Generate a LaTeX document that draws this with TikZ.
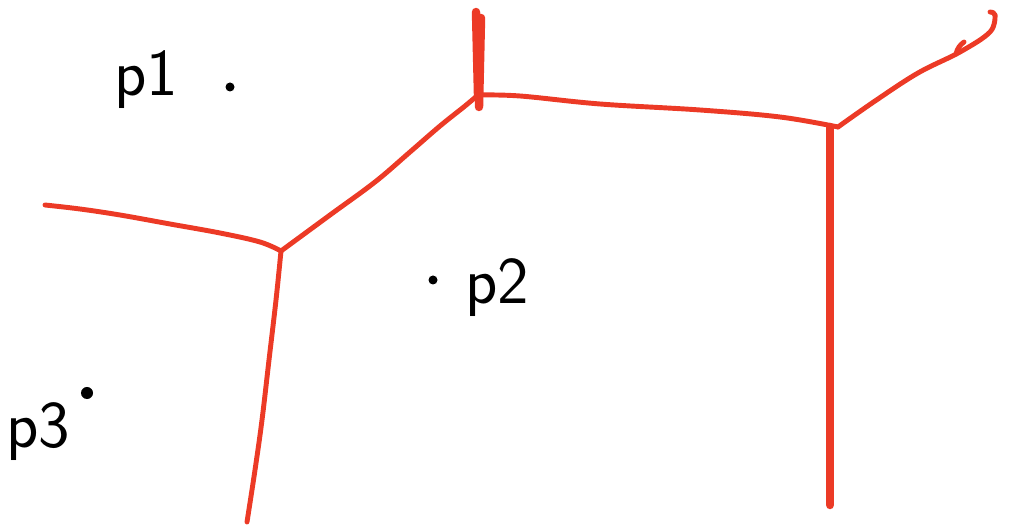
\documentclass[tikz,border=0pt]{standalone}
\usepackage{tikz}
\usetikzlibrary{positioning}
\definecolor{VorRed}{RGB}{236,58,38}
\definecolor{VorInk}{RGB}{0,0,0}
\tikzset{
  vor/edge/.style={
    draw=VorRed,
    line width=1.4pt,
    line cap=round,
    line join=round
  },
  vor/heavyedge/.style={
    draw=VorRed,
    line width=2.4pt,
    line cap=round
  },
  vor/site/.style={circle, fill=VorInk, inner sep=0pt, minimum size=0.09cm},
  vor/label/.style={font=\sffamily\fontsize{19}{19}\selectfont, text=VorInk, inner sep=0pt}
}
\begin{document}
\begin{tikzpicture}[x=0.01cm,y=-0.01cm]
  \useasboundingbox (0,0) rectangle (1010,528);
  \node[vor/site] (p1) at (230,87) {};
  \node[vor/site] (p2) at (433,280) {};
  \node[vor/site,minimum size=0.12cm] (p3) at (87,393) {};
  \node[vor/label] (p1lbl) at (146,80) {p1};
  \node[vor/label] (p2lbl) at (497,288) {p2};
  \node[vor/label] (p3lbl) at (38,432) {p3};
  \coordinate (vA) at (281,251);
  \coordinate (vB) at (478,95);
  \coordinate (vC) at (838,127);
  \coordinate (endW) at (45,205);
  \coordinate (endS) at (247,522);
  \coordinate (endN) at (476,12);
  \coordinate (endE) at (995,15);
  \coordinate (endSE) at (830,505);
  \draw[vor/edge] plot[smooth,tension=0.6] coordinates {(endW) (80,209) (120,215) (170,224) (220,233) (260,242) (vA)};
  \draw[vor/edge] plot[smooth,tension=0.6] coordinates {(vA) (276,300) (269,360) (262,420) (255,470) (endS)};
  \draw[vor/edge] plot[smooth,tension=0.6] coordinates {(vA) (330,215) (375,182) (410,152) (440,126) (465,106) (vB)};
  \draw[vor/edge] plot[smooth,tension=0.6] coordinates {(vB) (520,96) (600,104) (700,110) (780,117) (vC)};
  \draw[vor/edge] plot[smooth,tension=0.6] coordinates {(vC) (875,101) (918,73) (960,52) (990,32) (endE)};
  \draw[vor/edge] (endE) to[bend right=40] (990,12);
  \draw[vor/edge] (956,54) to[bend left=20] (964,42);
  \draw[vor/heavyedge] (endN) -- (vB);
  \draw[vor/heavyedge] (481,18) -- (479,107);
  \draw[vor/heavyedge] (830,127) -- (endSE);
\end{tikzpicture}
\end{document}
